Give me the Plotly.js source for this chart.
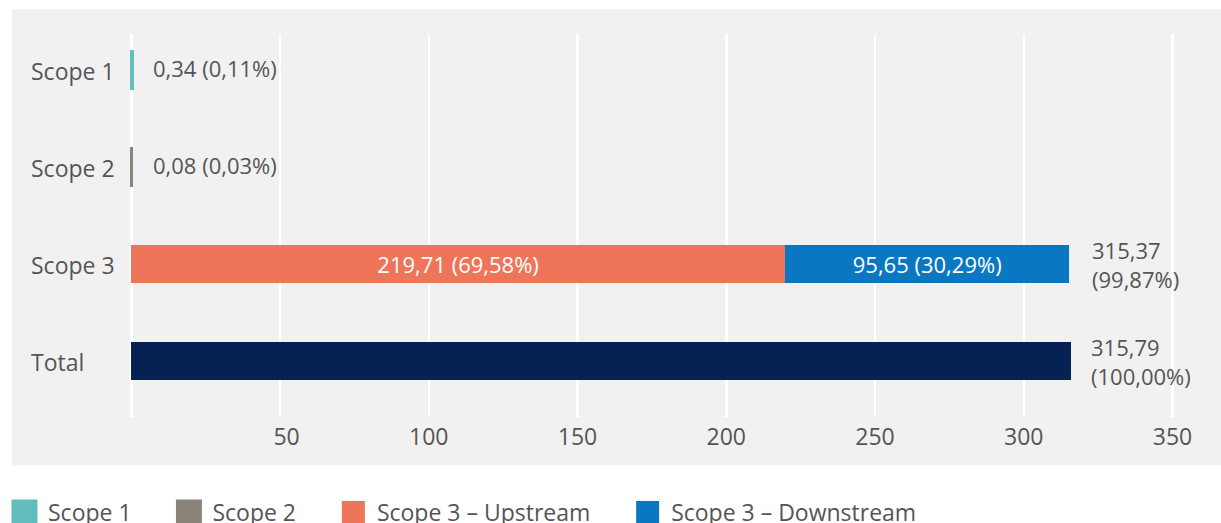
<!DOCTYPE html>
<html>
<head>
<meta charset="utf-8">
<script src="https://cdn.plot.ly/plotly-3.0.1.min.js"></script>
<style>
html,body{margin:0;padding:0;background:#fff;}
#chart{width:1221px;height:523px;}
</style>
</head>
<body>
<div id="chart"></div>
<script>
// ---- data ----
const categories = ['Scope 1', 'Scope 2', 'Scope 3', 'Total'];
const seriesNames = ['Scope 1', 'Scope 2', 'Scope 3 – Upstream', 'Scope 3 – Downstream'];
const seriesCategory = ['Scope 1', 'Scope 2', 'Scope 3', 'Scope 3'];
const seriesValues = [0.34, 0.08, 219.71, 95.65];
const seriesPercents = [0.11, 0.03, 69.58, 30.29];
const seriesColors = ['#63bdbd', '#8a847a', '#ee745a', '#0a77c2'];
const totalValue = 315.79;
const totalPercent = 100.00;
const totalColor = '#062254';
const scope3Value = 315.37;
const scope3Percent = 99.87;
const xTickVals = [50, 100, 150, 200, 250, 300, 350];
const xTickText = ['50', '100', '150', '200', '250', '300', '350'];

// ---- layout geometry ----
const W = 1221, H = 523;
const M = {l: 130, r: 0, t: 34, b: 106};
const plotW = W - M.l - M.r, plotH = H - M.t - M.b;
const px2x = p => (p - M.l) / plotW;
const py2y = p => (H - M.b - p) / plotH;

const FONT = '"Open Sans", "DejaVu Sans", sans-serif';
const FS = 22;      // data labels
const FS_AX = 23;   // axis / category / legend text
const TXT = '#555555';
const fmt = v => v.toFixed(2).replace('.', ',');
const lbl = (v, p) => fmt(v) + ' (' + fmt(p) + '%)';
// right-align tick labels to 3 digits with figure spaces
const padTick = t => '\u2007'.repeat(Math.max(0, 3 - t.length)) + t;
const legendPad = '\u00a0'.repeat(6);

const traces = seriesNames.map((name, i) => {
  const small = seriesValues[i] < 5;
  return {
    type: 'bar',
    orientation: 'h',
    name: name + legendPad,
    y: [seriesCategory[i]],
    x: [seriesValues[i]],
    marker: {color: seriesColors[i], line: {color: seriesColors[i], width: small ? 3 : 0}},
    text: small ? [''] : [lbl(seriesValues[i], seriesPercents[i])],
    textposition: small ? 'none' : 'inside',
    insidetextanchor: 'middle',
    textfont: {family: FONT, size: FS, color: '#ffffff'},
    constraintext: 'none',
    hoverinfo: 'skip'
  };
});
traces.push({
  type: 'bar', orientation: 'h', name: 'Total', showlegend: false,
  y: ['Total'], x: [totalValue],
  marker: {color: totalColor},
  hoverinfo: 'skip'
});

const annotations = [];
// category labels (left aligned)
categories.forEach(c => {
  annotations.push({
    xref: 'paper', yref: 'y', x: px2x(29), y: c, xanchor: 'left', yanchor: 'middle',
    yshift: -1,
    text: c, showarrow: false, font: {family: FONT, size: FS_AX, color: TXT}
  });
});
// outside labels for small bars
seriesNames.forEach((n, i) => {
  if (seriesValues[i] < 5) {
    annotations.push({
      x: seriesValues[i], y: seriesCategory[i], xref: 'x', yref: 'y',
      xanchor: 'left', yanchor: 'middle', xshift: 19, yshift: 2,
      text: lbl(seriesValues[i], seriesPercents[i]), showarrow: false,
      font: {family: FONT, size: FS, color: TXT}
    });
  }
});
annotations.push({
  x: scope3Value, y: 'Scope 3', xref: 'x', yref: 'y', xanchor: 'left', yanchor: 'middle',
  xshift: 21, align: 'left', showarrow: false,
  text: fmt(scope3Value) + '<br>(' + fmt(scope3Percent) + '%)',
  font: {family: FONT, size: FS, color: TXT}
});
annotations.push({
  x: totalValue, y: 'Total', xref: 'x', yref: 'y', xanchor: 'left', yanchor: 'middle',
  xshift: 18, align: 'left', showarrow: false,
  text: fmt(totalValue) + '<br>(' + fmt(totalPercent) + '%)',
  font: {family: FONT, size: FS, color: TXT}
});

const layout = {
  width: W, height: H,
  margin: {l: M.l, r: M.r, t: M.t, b: M.b, pad: 0, autoexpand: false},
  paper_bgcolor: '#ffffff',
  plot_bgcolor: 'rgba(0,0,0,0)',
  barmode: 'stack',
  bargap: 0.61,
  font: {family: FONT, size: FS, color: TXT},
  xaxis: {
    range: [-1.3 / 2.975, 366.3],
    tickvals: xTickVals, ticktext: xTickText.map(padTick),
    showgrid: true, gridcolor: '#ffffff', gridwidth: 2.5,
    zeroline: true, zerolinecolor: '#ffffff', zerolinewidth: 2.5,
    showline: false, ticks: '',
    tickfont: {family: FONT, size: FS_AX, color: TXT},
    ticklabelstandoff: 4,
    fixedrange: true
  },
  yaxis: {
    type: 'category', categoryorder: 'array', categoryarray: categories,
    range: [3.577, -0.371],
    showgrid: false, zeroline: false, showline: false, ticks: '',
    showticklabels: false, fixedrange: true
  },
  shapes: [{
    type: 'rect', xref: 'paper', yref: 'paper', layer: 'below',
    x0: px2x(12), x1: px2x(1221), y0: py2y(465), y1: py2y(9),
    fillcolor: '#f1f1f1', line: {width: 0}
  }],
  annotations: annotations,
  showlegend: true,
  legend: {
    orientation: 'h', x: px2x(8), xanchor: 'left', y: py2y(491), yanchor: 'top',
    font: {family: FONT, size: FS_AX, color: TXT},
    itemwidth: 30, traceorder: 'normal', bgcolor: 'rgba(0,0,0,0)'
  }
};

Plotly.newPlot('chart', traces, layout, {staticPlot: true, displayModeBar: false}).then(gd => {
  gd.querySelectorAll('.legend .legendpoints path').forEach(p => {
    p.setAttribute('d', 'M8,11.5H-15V-11.5H8Z');
  });
});
</script>
</body>
</html>
